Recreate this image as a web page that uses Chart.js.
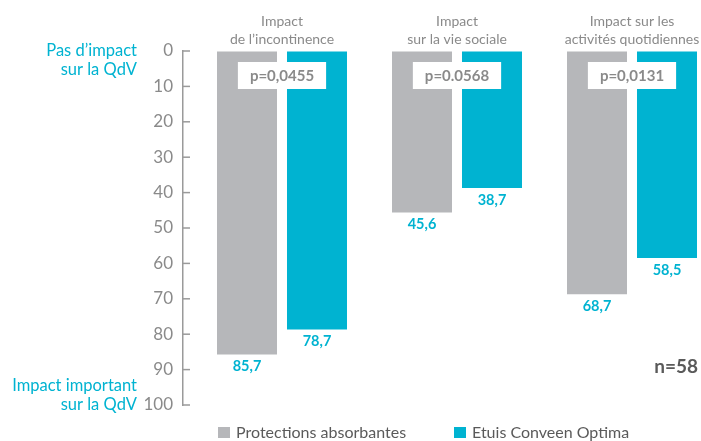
<!DOCTYPE html>
<html lang="fr">
<head>
<meta charset="utf-8">
<script src="https://cdn.jsdelivr.net/npm/chart.js@4.4.1/dist/chart.umd.min.js"></script>
<style>
  html, body { margin: 0; padding: 0; background: #fff; }
  #wrap { position: relative; width: 701px; height: 441px; }
</style>
</head>
<body>
<div id="wrap"><canvas id="qdvChart"></canvas></div>
<script>
// ---- data ----
const groupTitles = [
    ['Impact', 'de l\u2019incontinence'],
    ['Impact', 'sur la vie sociale'],
    ['Impact sur les', 'activités quotidiennes']
];
const pValues = ['p=0,0455', 'p=0.0568', 'p=0,0131'];
const protections = [85.7, 45.6, 68.7];
const conveen = [78.7, 38.7, 58.5];
const seriesNames = ['Protections absorbantes', 'Etuis Conveen Optima'];
const topLabel = ['Pas d\u2019impact', 'sur la QdV'];
const bottomLabel = ['Impact important', 'sur la QdV'];
const sampleSize = 'n=58';

// ---- styles ----
const GREY_BAR = '#b6b7ba';
const CYAN = '#00b3d1';
const TEXT_GREY = '#8a8a8a';
const AXIS_GREY = '#9a9a9a';
const FONT = 'Lato, "Open Sans", sans-serif';

const fmt = v => v.toFixed(1).replace('.', ',');

// extra drawing: tick marks, titles, p boxes, values, side labels, legend
const annotations = {
    id: 'annotations',
    afterDraw(chart) {
        const ctx = chart.ctx;
        const area = chart.chartArea;
        const xs = chart.scales.x;
        const ys = chart.scales.y;
        ctx.save();

        // small ticks pointing into the plot
        ctx.strokeStyle = AXIS_GREY;
        ctx.lineWidth = 1.5;
        ys.ticks.forEach(t => {
            const py = ys.getPixelForValue(t.value);
            ctx.beginPath();
            ctx.moveTo(area.left, py);
            ctx.lineTo(area.left + 7, py);
            ctx.stroke();
        });

        // group titles
        ctx.textAlign = 'center';
        ctx.textBaseline = 'middle';
        ctx.fillStyle = TEXT_GREY;
        ctx.font = '14px ' + FONT;
        groupTitles.forEach((lines, i) => {
            const cx = xs.getPixelForValue(i);
            ctx.fillText(lines[0], cx, 21);
            ctx.fillText(lines[1], cx, 39);
        });

        // p-value boxes
        ctx.font = 'bold 15px ' + FONT;
        pValues.forEach((p, i) => {
            const cx = xs.getPixelForValue(i);
            const w = ctx.measureText(p).width + 24;
            ctx.fillStyle = '#ffffff';
            ctx.fillRect(cx - w / 2, 62, w, 27);
            ctx.fillStyle = TEXT_GREY;
            ctx.fillText(p, cx, 76);
        });

        // value labels under each bar
        ctx.font = 'bold 14.5px ' + FONT;
        ctx.fillStyle = CYAN;
        chart.data.datasets.forEach((ds, di) => {
            chart.getDatasetMeta(di).data.forEach((bar, i) => {
                ctx.fillText(fmt(ds.data[i].y), bar.x, bar.y + 12);
            });
        });

        // n=58
        ctx.font = 'bold 19px ' + FONT;
        ctx.fillStyle = '#5a5a5a';
        ctx.textAlign = 'right';
        ctx.fillText(sampleSize, 698, 367);

        // side labels
        ctx.font = '16.5px ' + FONT;
        ctx.fillStyle = CYAN;
        const top0 = ys.getPixelForValue(0);
        const bot0 = ys.getPixelForValue(100);
        ctx.fillText(topLabel[0], 137, top0);
        ctx.fillText(topLabel[1], 137, top0 + 19);
        ctx.fillText(bottomLabel[0], 137, bot0 - 19);
        ctx.fillText(bottomLabel[1], 137, bot0);

        // legend
        ctx.textAlign = 'left';
        ctx.font = '16px ' + FONT;
        const legendX = [218, 454];
        chart.data.datasets.forEach((ds, di) => {
            ctx.fillStyle = ds.backgroundColor;
            ctx.fillRect(legendX[di], 427, 12, 11);
            ctx.fillStyle = '#5a5a5a';
            ctx.fillText(ds.label, legendX[di] + 18, 433);
        });

        ctx.restore();
    }
};

const ctx = document.getElementById('qdvChart').getContext('2d');
new Chart(ctx, {
    type: 'bar',
    data: {
        datasets: [
            { label: seriesNames[0], data: protections.map((v, i) => ({ x: i, y: v })), backgroundColor: GREY_BAR },
            { label: seriesNames[1], data: conveen.map((v, i) => ({ x: i, y: v })), backgroundColor: CYAN }
        ]
    },
    options: {
        responsive: true,
        maintainAspectRatio: false,
        animation: false,
        layout: { padding: { top: 51, bottom: 36, left: 0, right: 0 } },
        datasets: { bar: { categoryPercentage: 0.8, barPercentage: 60 / 70 } },
        plugins: { legend: { display: false }, tooltip: { enabled: false } },
        scales: {
            x: {
                type: 'linear',
                display: false,
                offset: false,
                min: -0.5657,
                max: 2.3943,
                afterBuildTicks: scale => { scale.ticks = groupTitles.map((g, i) => ({ value: i })); }
            },
            y: {
                reverse: true,
                min: 0,
                max: 100,
                afterFit: scale => { scale.width = 183; },
                grid: { drawOnChartArea: false, drawTicks: false },
                border: { color: AXIS_GREY, width: 1.5 },
                ticks: { stepSize: 10, padding: 10, color: TEXT_GREY, font: { family: FONT, size: 17 } }
            }
        }
    },
    plugins: [annotations]
});
</script>
</body>
</html>
